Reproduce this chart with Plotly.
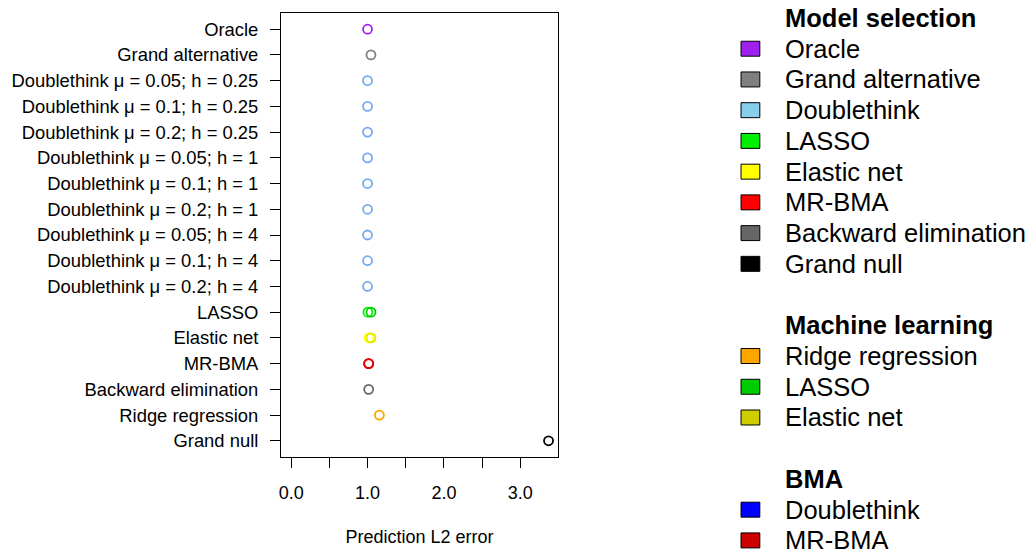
import plotly.graph_objects as go

# ---------------- data ----------------
row_labels = [
    "Oracle",
    "Grand alternative",
    "Doublethink μ = 0.05; h = 0.25",
    "Doublethink μ = 0.1; h = 0.25",
    "Doublethink μ = 0.2; h = 0.25",
    "Doublethink μ = 0.05; h = 1",
    "Doublethink μ = 0.1; h = 1",
    "Doublethink μ = 0.2; h = 1",
    "Doublethink μ = 0.05; h = 4",
    "Doublethink μ = 0.1; h = 4",
    "Doublethink μ = 0.2; h = 4",
    "LASSO",
    "Elastic net",
    "MR-BMA",
    "Backward elimination",
    "Ridge regression",
    "Grand null",
]
primary_values = [1.00, 1.045, 1.00, 1.00, 1.00, 1.00, 1.00, 1.00, 1.00, 1.00, 1.00,
                  1.005, 1.02, 1.015, 1.015, 1.155, 3.37]
primary_colors = ["#A020F0", "#808080"] + ["#74AAF0"] * 9 + \
                 ["#00EE00", "#FFFF00", "#FF0000", "#666666", "#FFA500", "#000000"]

# second estimate (machine learning / BMA versions) on shared rows
second_labels = ["LASSO", "Elastic net", "MR-BMA"]
second_values = [1.045, 1.045, 1.015]
second_colors = ["#00CD00", "#E6E600", "#E00000"]

x_tick_vals = [0, 0.5, 1, 1.5, 2, 2.5, 3, 3.5]
x_tick_text = ["0.0", "", "1.0", "", "2.0", "", "3.0", ""]
x_title = "Prediction L2 error"

legend_entries = [
    ("header", "Model selection", None),
    ("item", "Oracle", "#A020F0"),
    ("item", "Grand alternative", "#808080"),
    ("item", "Doublethink", "#87CEEB"),
    ("item", "LASSO", "#00EE00"),
    ("item", "Elastic net", "#FFFF00"),
    ("item", "MR-BMA", "#FF0000"),
    ("item", "Backward elimination", "#666666"),
    ("item", "Grand null", "#000000"),
    ("blank", "", None),
    ("header", "Machine learning", None),
    ("item", "Ridge regression", "#FFA500"),
    ("item", "LASSO", "#00CD00"),
    ("item", "Elastic net", "#CDCD00"),
    ("blank", "", None),
    ("header", "BMA", None),
    ("item", "Doublethink", "#0000FF"),
    ("item", "MR-BMA", "#CD0000"),
]

# ---------------- layout geometry ----------------
W, H = 1029, 555
ML, MT = 278, 13
PR, PB = 558, 458
MR, MB = W - PR, H - PB
PW, PH = PR - ML, PB - MT
FONT = "Arial, Liberation Sans, sans-serif"

n = len(row_labels)
ypos = {lab: n - i for i, lab in enumerate(row_labels)}


def px_x(px):
    return (px - ML) / PW


def px_y(py):
    return (PB - py) / PH


fig = go.Figure()

fig.add_trace(go.Scatter(
    x=primary_values, y=[ypos[l] for l in row_labels], mode="markers",
    marker=dict(symbol="circle-open", size=9, color=primary_colors,
                line=dict(width=1.8, color=primary_colors)),
    showlegend=False, hoverinfo="x+y"))
fig.add_trace(go.Scatter(
    x=second_values, y=[ypos[l] for l in second_labels], mode="markers",
    marker=dict(symbol="circle-open", size=9, color=second_colors,
                line=dict(width=1.8, color=second_colors)),
    showlegend=False, hoverinfo="x+y"))

# manual legend
shapes = []
annotations = []
row0, step = 18, 30.8
for i, (kind, text, color) in enumerate(legend_entries):
    yc = row0 + i * step
    if kind == "header":
        annotations.append(dict(x=px_x(786), y=px_y(yc), xref="paper", yref="paper",
                                text="<b>" + text + "</b>", showarrow=False,
                                xanchor="left", yanchor="middle", borderpad=0,
                                font=dict(family=FONT, size=25.5, color="black")))
    elif kind == "item":
        shapes.append(dict(type="rect", xref="paper", yref="paper",
                           x0=px_x(743), x1=px_x(762), y0=px_y(yc - 7.5), y1=px_y(yc + 7.5),
                           fillcolor=color, line=dict(color="black", width=1)))
        annotations.append(dict(x=px_x(786), y=px_y(yc), xref="paper", yref="paper",
                                text=text, showarrow=False,
                                xanchor="left", yanchor="middle", borderpad=0,
                                font=dict(family=FONT, size=25.5, color="black")))

fig.update_layout(
    width=W, height=H,
    margin=dict(l=ML, r=MR, t=MT, b=MB, pad=0),
    paper_bgcolor="white", plot_bgcolor="white",
    font=dict(family=FONT, size=18, color="black"),
    shapes=shapes, annotations=annotations,
    showlegend=False,
)
fig.update_xaxes(
    range=[-0.133, 3.494], tickvals=x_tick_vals, ticktext=x_tick_text,
    ticks="outside", ticklen=10, tickwidth=1, tickcolor="black",
    ticklabelstandoff=9,
    showline=True, mirror=True, linecolor="black", linewidth=1,
    showgrid=False, zeroline=False,
    tickfont=dict(family=FONT, size=18, color="black"),
    title=dict(text=x_title, font=dict(family=FONT, size=18, color="black"), standoff=28),
)
fig.update_yaxes(
    range=[0.37, n + 0.63], tickvals=[ypos[l] for l in row_labels], ticktext=row_labels,
    ticks="outside", ticklen=10, tickwidth=1, tickcolor="black",
    ticklabelstandoff=8,
    showline=True, mirror=True, linecolor="black", linewidth=1,
    showgrid=False, zeroline=False,
    tickfont=dict(family=FONT, size=18.4, color="black"),
)

fig.write_html(
    "out.html",
    config={"displayModeBar": False},
    post_script="document.body.style.margin='0px';document.body.style.overflow='hidden';",
)
